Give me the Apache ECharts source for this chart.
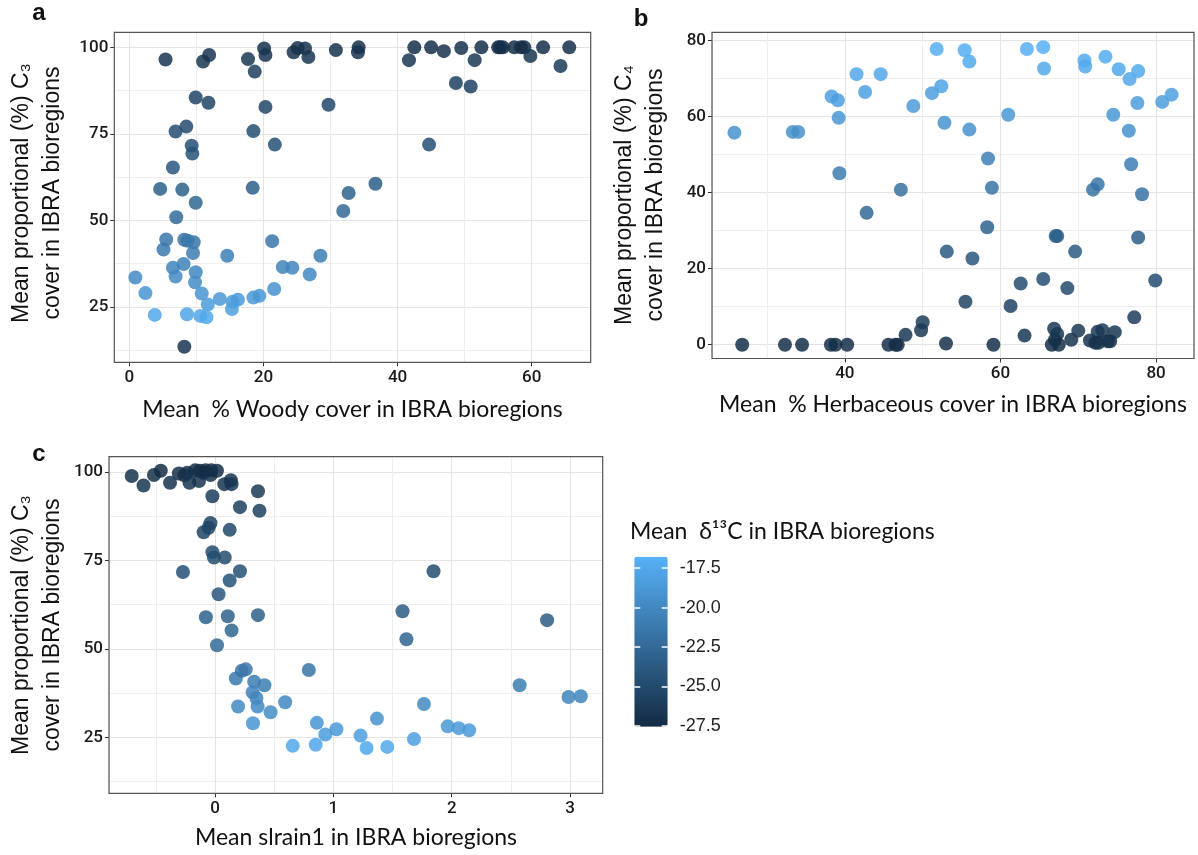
<!DOCTYPE html>
<html>
<head>
<meta charset="utf-8">
<script src="https://cdn.jsdelivr.net/npm/echarts@6/dist/echarts.min.js"></script>
<style>
html,body{margin:0;padding:0;background:#fff;}
#chart{width:1198px;height:855px;}
</style>
</head>
<body>
<div id="chart"></div>
<script>
// ---------- DATA ----------
// Panel a: Mean % woody cover vs mean proportional C3 cover
const woodyX = [5.4,11.0,11.9,17.7,18.7,20.1,20.3,24.5,25.1,26.2,26.7,30.8,34.2,34.1,41.7,42.5,45.0,46.9,48.7,49.5,50.9,51.5,52.5,55.0,55.3,55.7,57.4,58.4,58.9,59.8,61.7,64.3,65.6,
  9.9,11.8,20.3,29.7,8.5,6.9,18.5,9.3,9.4,21.7,44.7,6.5,4.6,7.9,18.4,9.9,32.7,36.7,31.9,7.0,
  5.5,5.1,8.2,8.7,9.6,9.5,14.6,21.3,28.5,6.5,8.1,6.9,9.9,9.8,22.9,24.3,26.9,0.9,2.4,10.8,21.6,13.5,11.7,15.4,16.2,18.5,19.4,15.3,3.8,8.6,10.6,11.5,8.2];
const woodyC3 = [96.5,95.9,97.8,96.6,93.0,99.7,97.8,98.6,99.8,99.7,97.2,99.2,100,98.6,96.3,100,100,98.9,89.7,99.8,88.7,96.3,100,100,100,100,100,100,100,97.5,100,94.6,100,
  85.5,84.0,82.8,83.4,77.1,75.7,75.8,71.6,69.3,71.9,71.9,65.3,59.1,58.9,59.4,55.1,57.9,60.6,52.7,50.9,
  44.5,41.6,44.4,44.1,43.7,40.6,39.8,44.0,39.8,36.3,37.4,33.8,35.0,32.1,36.5,36.3,34.4,33.5,29.0,28.9,30.2,27.3,25.7,26.5,27.1,27.7,28.2,24.4,22.7,22.9,22.4,22.0,13.5];
const woodyD13C = [-26.8,-26.5,-26.8,-26.6,-26.0,-27.0,-26.8,-26.9,-27.1,-27.0,-26.7,-27.0,-27.2,-26.9,-26.6,-27.2,-27.2,-26.9,-25.8,-27.1,-25.7,-26.5,-27.2,-27.3,-27.3,-27.3,-27.3,-27.3,-27.3,-26.7,-27.2,-26.3,-27.2,
  -25.5,-25.5,-25.3,-25.3,-25.0,-24.8,-24.8,-24.5,-24.3,-24.5,-24.6,-23.9,-23.3,-23.3,-23.4,-22.8,-23.2,-23.5,-22.6,-22.4,
  -21.5,-21.2,-21.6,-21.5,-21.4,-21.0,-20.8,-21.5,-20.9,-20.3,-20.5,-19.9,-20.1,-19.7,-20.3,-20.2,-20.0,-19.8,-19.0,-19.0,-19.2,-18.7,-18.4,-18.5,-18.6,-18.7,-18.8,-18.1,-17.6,-17.7,-17.6,-17.5,-26.8];

// Panel b: Mean % herbaceous cover vs mean proportional C4 cover
const herbX = [25.8,33.3,34.0,38.3,39.1,39.2,39.3,41.5,42.6,44.6,48.8,51.2,51.8,52.4,52.8,55.4,56.0,56.0,61.0,63.4,65.5,65.6,70.8,70.9,73.5,75.2,76.6,77.7,74.5,76.5,77.6,80.8,82.0,
  58.4,58.9,47.2,42.8,58.3,53.1,56.4,67.1,67.3,69.6,76.8,78.2,71.9,72.5,77.7,
  62.6,65.5,68.6,79.9,55.5,61.3,77.2,50.0,49.8,47.8,63.1,66.9,67.3,67.0,69.1,70.0,72.5,73.1,71.5,72.2,73.8,74.7,
  26.8,32.3,34.5,38.2,38.8,40.3,45.6,46.5,46.8,53.0,59.1,66.6,67.5,72.6,74.1];
const herbC4 = [55.8,56.0,56.0,65.3,64.3,59.7,45.1,71.2,66.5,71.2,62.8,66.2,77.8,68.0,58.4,77.5,74.5,56.6,60.5,77.8,78.3,72.7,74.8,73.2,75.8,72.5,69.9,72.0,60.5,56.3,63.6,63.9,65.8,
  49.0,41.3,40.8,34.7,30.9,24.5,22.7,28.6,28.6,24.5,47.5,39.6,40.8,42.2,28.2,
  16.1,17.3,14.9,16.9,11.3,10.2,7.2,5.9,3.8,2.6,2.4,4.2,2.8,1.3,1.3,3.7,3.4,3.8,1.1,0.5,0.9,3.3,
  0,0,0,0,0,0,0,0,0,0.3,0,0,0,0.5,0.9];
const herbD13C = [-19.3,-19.3,-19.3,-18.2,-18.3,-18.9,-21.0,-17.6,-18.1,-17.6,-18.5,-18.1,-17.0,-17.9,-19.1,-17.0,-17.3,-19.3,-18.8,-17.0,-16.9,-17.4,-17.2,-17.4,-17.1,-17.4,-17.6,-17.4,-18.8,-19.3,-18.4,-18.4,-18.2,
  -20.6,-21.6,-21.8,-22.6,-23.1,-23.8,-24.0,-23.3,-23.3,-23.8,-20.8,-21.8,-21.7,-21.5,-23.4,
  -24.8,-24.7,-25.0,-24.7,-25.5,-25.6,-26.0,-26.1,-26.5,-26.6,-26.6,-26.4,-26.6,-26.9,-26.9,-26.5,-26.5,-26.5,-27.0,-27.1,-27.0,-26.6,
  -27.2,-27.2,-27.2,-27.2,-27.2,-27.2,-27.2,-27.3,-27.3,-27.1,-27.2,-27.2,-27.2,-27.1,-27.0];

// Panel c: Mean slrain1 vs mean proportional C3 cover
const slrainX = [-0.705,-0.605,-0.517,-0.459,-0.381,-0.307,-0.259,-0.236,-0.217,-0.168,-0.136,-0.129,-0.097,-0.081,-0.039,-0.032,0.016,0.078,0.133,0.139,
  -0.023,0.362,0.210,0.375,-0.039,-0.055,-0.097,0.123,-0.023,-0.010,0.081,-0.272,0.210,0.123,0.029,1.846,-0.078,0.107,0.362,0.139,1.584,1.617,0.016,2.806,
  0.175,0.226,0.259,0.792,0.330,0.417,0.317,0.349,0.194,0.359,0.469,0.592,0.320,0.860,0.931,1.025,0.656,0.850,1.229,1.280,1.368,1.455,1.681,1.765,1.966,2.059,2.147,2.574,2.987,3.091];
const slrainC3 = [98.8,96.1,99.1,100.3,96.9,99.5,99.0,99.7,96.9,100.4,97.4,100.3,99.7,100.4,99.1,100.4,100.3,96.5,97.6,96.5,
  93.1,94.5,90.0,89.0,85.5,84.2,82.9,83.6,77.3,75.8,75.8,71.7,71.9,69.3,65.4,71.9,58.9,59.2,59.5,55.2,60.6,52.7,51.0,58.1,
  41.6,43.8,44.2,44.0,40.7,39.7,37.7,36.1,33.7,33.7,32.1,34.9,29.0,29.1,25.8,27.3,22.6,22.9,25.5,22.0,30.3,22.3,24.5,34.4,28.1,27.6,27.0,39.7,36.4,36.6];
const slrainD13C = [-27.0,-26.7,-27.0,-27.3,-26.8,-27.1,-27.0,-27.1,-26.8,-27.3,-26.9,-27.3,-27.2,-27.3,-27.0,-27.3,-27.2,-26.7,-26.9,-26.7,
  -26.2,-26.4,-25.9,-25.8,-25.6,-25.5,-25.4,-25.4,-25.0,-24.9,-24.9,-24.6,-24.6,-24.3,-24.0,-24.8,-23.3,-23.3,-23.4,-22.9,-23.6,-23.0,-22.4,-23.6,
  -21.2,-21.5,-21.5,-21.6,-21.0,-20.9,-20.5,-20.3,-19.9,-19.9,-19.7,-20.1,-19.0,-19.0,-18.4,-18.7,-17.6,-17.7,-18.3,-17.5,-19.2,-17.6,-18.1,-20.0,-18.8,-18.7,-18.6,-20.9,-20.3,-20.3];

// Tick labels
const ticksWoody = [0, 20, 40, 60];
const ticksHerb = [40, 60, 80];
const ticksSlrain = [0, 1, 2, 3];
const ticksC3 = [25, 50, 75, 100];
const ticksC4 = [0, 20, 40, 60, 80];
const ticksD13C = [-27.5, -25.0, -22.5, -20.0, -17.5];

// Text
const titleWoody = 'Mean  % Woody cover in IBRA bioregions';
const titleHerb = 'Mean  % Herbaceous cover in IBRA bioregions';
const titleSlrain = 'Mean slrain1 in IBRA bioregions';
const titleC3 = 'Mean proportional (%) C\u2083\ncover in IBRA bioregions';
const titleC4 = 'Mean proportional (%) C\u2084\ncover in IBRA bioregions';
const titleLegend = 'Mean  \u03b4\u00b9\u00b3C in IBRA bioregions';

// ---------- LAYOUT ----------
const P = [
  {left:114.3, top:32.3, width:476.4, height:330.0, xr:[-2.24, 68.8], yr:[9.0, 104.35], xs:20, ys:25, xm:10, ym:12.5},
  {left:712.0, top:32.3, width:482.0, height:326.2, xr:[22.92, 84.88], yr:[-3.63, 82.21], xs:20, ys:20, xm:10, ym:10},
  {left:109.0, top:456.7, width:493.7, height:336.6, xr:[-0.897, 3.276], yr:[9.2, 104.25], xs:1, ys:25, xm:0.5, ym:12.5}
];
const CB = {left:634.3, top:556.7, width:33.4, height:170, range:[-27.55, -16.77]};

const tickFont = {fontSize:17, fontFamily:'Roboto', fontWeight:500, color:'#1a1a1a'};
const xTicks = [ticksWoody, ticksHerb, ticksSlrain];
const yTicks = [ticksC3, ticksC4, ticksC3];

const grids = [], xAxes = [], yAxes = [];
P.forEach((p, i) => {
  grids.push({left:p.left, top:p.top, width:p.width, height:p.height, containLabel:false, outerBoundsMode:'none', show:false});
  xAxes.push({type:'value', gridIndex:i, position:'bottom', min:p.xr[0], max:p.xr[1], minInterval:p.xs, maxInterval:p.xs,
    axisLine:{show:false, onZero:false},
    axisTick:{show:true, length:4, lineStyle:{color:'#333', width:1}, customValues:xTicks[i]},
    axisLabel:Object.assign({show:true, margin:7, customValues:xTicks[i]}, tickFont),
    splitLine:{show:true, lineStyle:{color:'#e4e4e4', width:1}}});
  xAxes.push({type:'value', gridIndex:i, position:'top', min:p.xr[0]-p.xm, max:p.xr[1]-p.xm, minInterval:p.xs, maxInterval:p.xs,
    axisLine:{show:false, onZero:false}, axisTick:{show:false}, axisLabel:{show:false},
    splitLine:{show:true, lineStyle:{color:'#eeeeee', width:1}}});
  yAxes.push({type:'value', gridIndex:i, position:'left', min:p.yr[0], max:p.yr[1], minInterval:p.ys, maxInterval:p.ys,
    axisLine:{show:false, onZero:false},
    axisTick:{show:true, length:4, lineStyle:{color:'#333', width:1}, customValues:yTicks[i]},
    axisLabel:Object.assign({show:true, margin:6, customValues:yTicks[i]}, tickFont),
    splitLine:{show:true, lineStyle:{color:'#e4e4e4', width:1}}});
  yAxes.push({type:'value', gridIndex:i, position:'right', min:p.yr[0]-p.ym, max:p.yr[1]-p.ym, minInterval:p.ys, maxInterval:p.ys,
    axisLine:{show:false, onZero:false}, axisTick:{show:false}, axisLabel:{show:false},
    splitLine:{show:true, lineStyle:{color:'#eeeeee', width:1}}});
});
// colorbar axis (tick marks + labels)
grids.push({left:CB.left, top:CB.top, width:CB.width, height:CB.height, containLabel:false, outerBoundsMode:'none', show:false});
xAxes.push({type:'value', gridIndex:3, show:false, min:0, max:1});
yAxes.push({type:'value', gridIndex:3, position:'left', z:10, min:CB.range[0], max:CB.range[1], minInterval:2.5, maxInterval:2.5,
  axisLine:{show:false, onZero:false},
  axisTick:{show:true, inside:true, length:6, lineStyle:{color:'#fff', width:1.5}, customValues:ticksD13C},
  axisLabel:{show:false}, splitLine:{show:false}});
yAxes.push({type:'value', gridIndex:3, position:'right', z:10, min:CB.range[0], max:CB.range[1], minInterval:2.5, maxInterval:2.5,
  axisLine:{show:false, onZero:false},
  axisTick:{show:true, inside:true, length:6, lineStyle:{color:'#fff', width:1.5}, customValues:ticksD13C},
  axisLabel:{show:true, margin:12, customValues:ticksD13C, formatter:v => Number(v).toFixed(1), fontSize:18, fontFamily:'Liberation Sans', color:'#222'},
  splitLine:{show:false}});

function zip(xs, ys, ds){ return xs.map((x, k) => [x, ys[k], ds[k]]); }
const seriesData = [zip(woodyX, woodyC3, woodyD13C), zip(herbX, herbC4, herbD13C), zip(slrainX, slrainC3, slrainD13C)];

const series = seriesData.map((d, i) => ({
  type:'scatter', xAxisIndex:2*i, yAxisIndex:2*i, data:d, symbol:'circle', symbolSize:14,
  itemStyle:{opacity:0.85, borderWidth:0}, emphasis:{disabled:true}, silent:true
}));

const axisTitleFont = '23px Lato';
const yTitleFont = '23px "Liberation Sans"';
const graphic = [];
P.forEach(p => {
  graphic.push({type:'rect', silent:true, z:100, shape:{x:p.left, y:p.top, width:p.width, height:p.height},
    style:{fill:'none', stroke:'#555', lineWidth:1.2}});
});
const texts = [
  {t:'a', x:39, y:25, font:'bold 24px "Liberation Sans"', va:'bottom'},
  {t:'b', x:641, y:31, font:'bold 24px "Liberation Sans"', va:'bottom'},
  {t:'c', x:39, y:466, font:'bold 24px "Liberation Sans"', va:'bottom'},
  {t:titleWoody, x:352.5, y:410, font:axisTitleFont, va:'middle'},
  {t:titleHerb, x:953, y:405, font:axisTitleFont, va:'middle'},
  {t:titleSlrain, x:356, y:838, font:axisTitleFont, va:'middle'},
  {t:titleLegend, x:630, y:532, font:'23px Lato', va:'middle', align:'left'}
];
texts.forEach(o => graphic.push({type:'text', silent:true, x:o.x, y:o.y,
  style:{text:o.t, font:o.font, fill:'#111', align:o.align || 'center', verticalAlign:o.va}}));
[[titleC3, 37.5, 193], [titleC4, 640, 195], [titleC3, 37.5, 625]].forEach(([t, x, y]) => graphic.push({
  type:'text', silent:true, x:x, y:y, rotation:Math.PI/2,
  style:{text:t, font:yTitleFont, fill:'#111', align:'center', verticalAlign:'middle', lineHeight:31}}));

const chart = echarts.init(document.getElementById('chart'), null, {renderer:'canvas'});
chart.setOption({
  animation:false,
  backgroundColor:'#ffffff',
  grid:grids, xAxis:xAxes, yAxis:yAxes,
  visualMap:{type:'continuous', min:CB.range[0], max:CB.range[1], dimension:2, seriesIndex:[0,1,2],
    orient:'vertical', left:CB.left, top:CB.top, itemWidth:CB.width, itemHeight:CB.height, padding:0,
    calculable:false, hoverLink:false, text:null, inRange:{color:['#132B43','#56B1F7']}},
  series:series,
  graphic:graphic
});
</script>
</body>
</html>
